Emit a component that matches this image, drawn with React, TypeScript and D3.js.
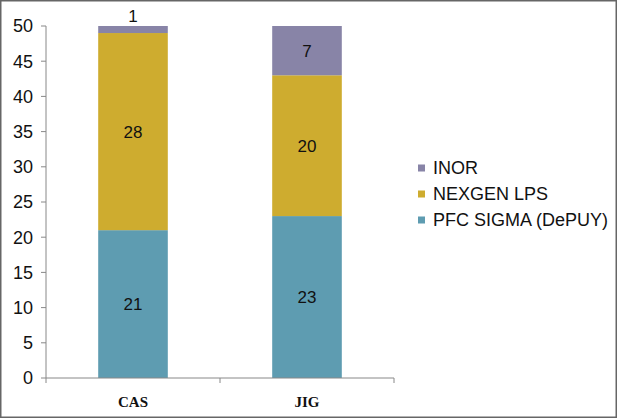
import React from 'react';
import * as d3 from 'd3';

const categories = ['CAS', 'JIG'];
const seriesNames = ['PFC SIGMA (DePUY)', 'NEXGEN LPS', 'INOR'];
const pfcSigma = [21, 23];
const nexgenLps = [28, 20];
const inor = [1, 7];
const yTicks = [0, 5, 10, 15, 20, 25, 30, 35, 40, 45, 50];
const colors = ['#5e9cb1', '#ceac2f', '#8884a7'];

export default function App() {
    const width = 617;
    const height = 418;
    const plot = { left: 46, right: 394, top: 26, bottom: 378 };

    const rows = categories.map((c, i) => ({
        cat: c,
        [seriesNames[0]]: pfcSigma[i],
        [seriesNames[1]]: nexgenLps[i],
        [seriesNames[2]]: inor[i],
    }));
    const stacked = d3.stack<any>().keys(seriesNames)(rows);

    const xScale = d3.scaleBand()
        .domain(categories)
        .range([plot.left, plot.right])
        .paddingInner(0.6)
        .paddingOuter(0.3);
    const yScale = d3.scaleLinear().domain([0, 50]).range([plot.bottom, plot.top]);

    const sans = 'Arial, "Liberation Sans", sans-serif';
    const step = plot.right - plot.left;
    const xTicks = [0, 1, 2].map(k => plot.left + (k * step) / categories.length);

    return (
        <div style={{ position: 'fixed', left: 0, top: 0 }}>
            <svg width={width} height={height} style={{ display: 'block' }}>
                <rect x={0} y={0} width={width} height={height} fill="#fff" />
                <rect x={0.75} y={0.75} width={width - 1.5} height={height - 1.5}
                    fill="none" stroke="#666" strokeWidth={1.5} />

                {/* bars */}
                {stacked.map((s, si) => (
                    <g key={s.key}>
                        {s.map((d, i) => {
                            const x = xScale(categories[i])!;
                            const y0 = yScale(d[0]);
                            const y1 = yScale(d[1]);
                            const v = d[1] - d[0];
                            const small = y0 - y1 < 18;
                            return (
                                <g key={i}>
                                    <rect x={x} y={y1} width={xScale.bandwidth()} height={y0 - y1}
                                        fill={colors[si]} />
                                    <text x={x + xScale.bandwidth() / 2}
                                        y={small ? y1 - 10 : (y0 + y1) / 2}
                                        dy="0.35em" textAnchor="middle"
                                        fontFamily={sans} fontSize={17} fill="#111">{v}</text>
                                </g>
                            );
                        })}
                    </g>
                ))}

                {/* y axis */}
                <line x1={plot.left} x2={plot.left} y1={plot.top} y2={plot.bottom} stroke="#888" />
                {yTicks.map(t => (
                    <g key={t}>
                        <line x1={plot.left - 5} x2={plot.left} y1={yScale(t)} y2={yScale(t)} stroke="#888" />
                        <text x={plot.left - 13} y={yScale(t)} dy="0.35em" textAnchor="end"
                            fontFamily={sans} fontSize={18} fill="#111">{t}</text>
                    </g>
                ))}

                {/* x axis */}
                <line x1={plot.left} x2={plot.right} y1={plot.bottom} y2={plot.bottom} stroke="#888" />
                {xTicks.map((x, k) => (
                    <line key={k} x1={x} x2={x} y1={plot.bottom} y2={plot.bottom + 5} stroke="#888" />
                ))}
                {categories.map(c => (
                    <text key={c} x={xScale(c)! + xScale.bandwidth() / 2} y={407} textAnchor="middle"
                        fontFamily='"Liberation Serif", "Times New Roman", serif' fontWeight="bold"
                        fontSize={15} fill="#111">{c}</text>
                ))}

                {/* legend */}
                {[2, 1, 0].map((si, r) => (
                    <g key={si} transform={`translate(418, ${168 + r * 26})`}>
                        <rect x={0} y={-3.5} width={7} height={7} fill={colors[si]} />
                        <text x={15} y={0} dy="0.35em" fontFamily={sans} fontSize={18} fill="#111">
                            {seriesNames[si]}
                        </text>
                    </g>
                ))}
            </svg>
        </div>
    );
}
